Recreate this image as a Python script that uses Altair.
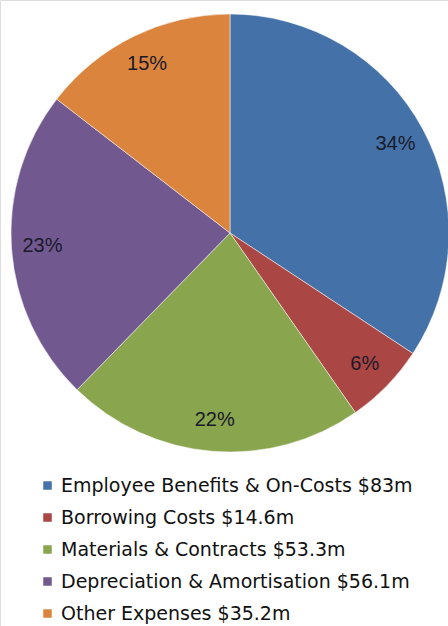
import altair as alt
import pandas as pd

categories = [
    "Employee Benefits & On-Costs $83m",
    "Borrowing Costs $14.6m",
    "Materials & Contracts $53.3m",
    "Depreciation & Amortisation $56.1m",
    "Other Expenses $35.2m",
]
values = [83.0, 14.6, 53.3, 56.1, 35.2]
colors = ["#4472A8", "#AA4643", "#89A54E", "#71588F", "#DB843D"]

total = sum(values)
df = pd.DataFrame({
    "category": categories,
    "value": values,
    "order": list(range(len(values))),
    "pct": [f"{round(v / total * 100):.0f}%" for v in values],
})

cx, cy, R = 230, 233, 219

base = alt.Chart(df).encode(
    theta=alt.Theta("value:Q", stack=True),
    order=alt.Order("order:Q"),
)

arcs = base.mark_arc(outerRadius=R, stroke="#ffffff", strokeWidth=0.5).encode(
    x=alt.value(cx),
    y=alt.value(cy),
    color=alt.Color(
        "category:N",
        scale=alt.Scale(domain=categories, range=colors),
        sort=categories,
        legend=alt.Legend(
            title=None,
            orient="none",
            legendX=38,
            legendY=476,
            symbolType="square",
            symbolSize=72,
            symbolStrokeWidth=0,
            labelFontSize=19,
            labelFont="DejaVu Sans",
            labelColor="#111111",
            labelOffset=4,
            rowPadding=12,
            padding=0,
            labelLimit=500,
        ),
    ),
)

labels = base.mark_text(
    radius=188,
    font="Liberation Sans",
    fontSize=20,
    color="#1a1a2a",
).encode(
    x=alt.value(cx),
    y=alt.value(cy),
    text="pct:N",
)

chart = alt.layer(arcs, labels).properties(
    width=448,
    height=626,
    padding=0,
    autosize=alt.AutoSizeParams(type="none"),
).configure_view(stroke=None).configure(background="#ffffff")

chart.save("out.html", embed_options={"renderer": "svg", "actions": False})
